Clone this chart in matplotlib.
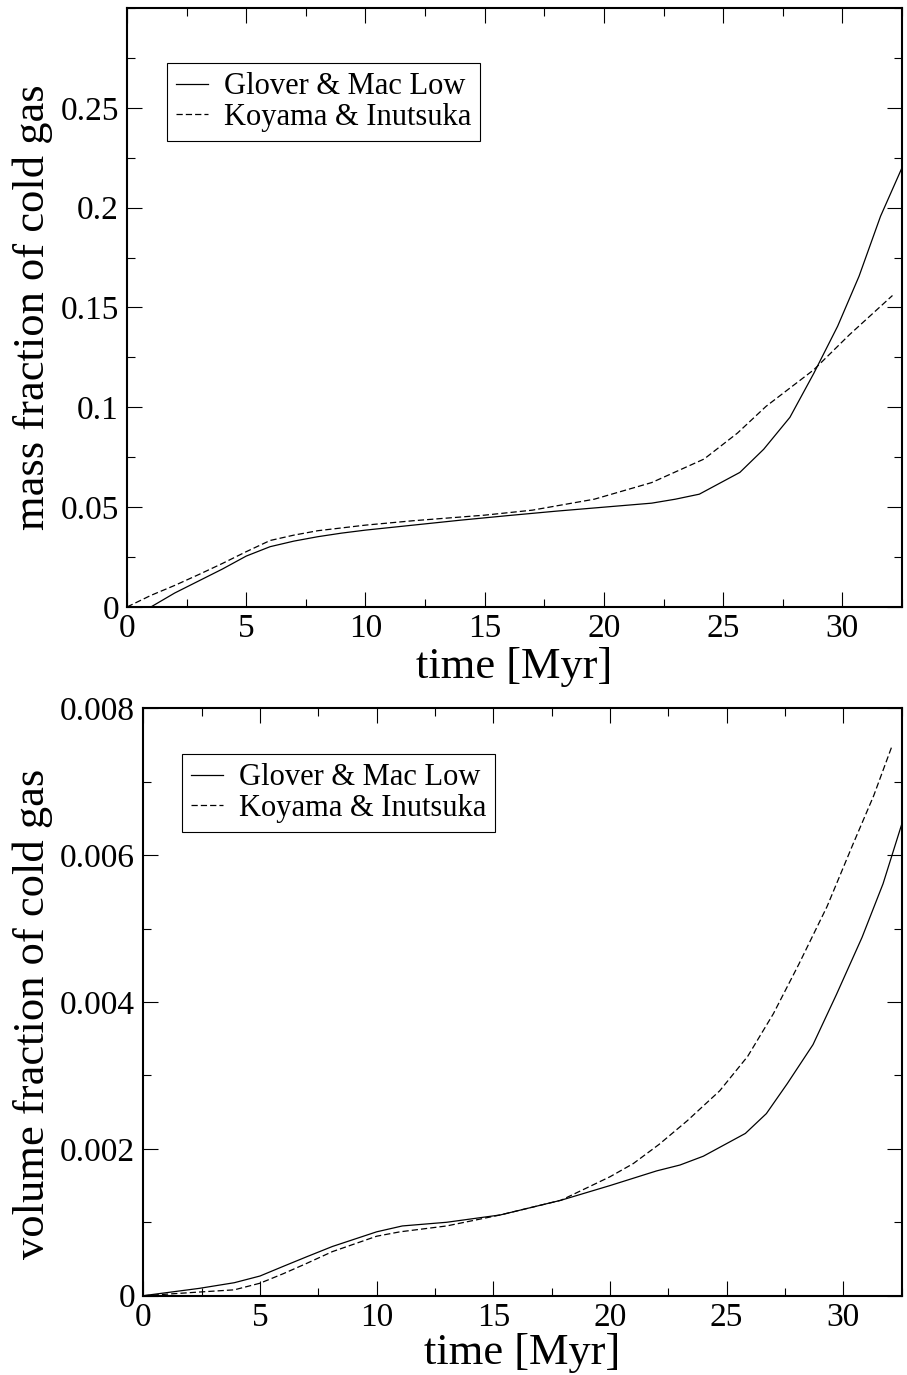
import numpy as np
import matplotlib
matplotlib.use("Agg")
import matplotlib.pyplot as plt
from matplotlib.ticker import MultipleLocator, FormatStrFormatter

plt.rcParams['font.family'] = ['Liberation Serif', 'DejaVu Serif']
plt.rcParams['lines.scale_dashes'] = False

labels = ["Glover & Mac Low", "Koyama & Inutsuka"]

# --- top panel : mass fraction of cold gas
t_mass_glover = [0, 1.0, 2, 3, 4, 5, 6, 7, 8, 9, 10, 12, 14, 16, 18, 20, 22, 23, 24,
                 25.7, 26.7, 27.8, 28.8, 29.8, 30.7, 31.6, 32.5]
mass_glover = [0, 0.0, 0.007, 0.013, 0.019, 0.0255, 0.0302, 0.033, 0.0352, 0.037, 0.0385,
               0.041, 0.0435, 0.0458, 0.048, 0.050, 0.052, 0.054, 0.0565,
               0.0674, 0.079, 0.095, 0.117, 0.1406, 0.1657, 0.1957, 0.220]

t_mass_koyama = [0, 1, 2, 3, 4, 5, 6, 7, 8, 10, 12, 15, 17, 19.6, 22, 24.2, 25.6, 26.8,
                 28.8, 30.3, 32.1]
mass_koyama = [0, 0.0058, 0.0108, 0.0162, 0.0218, 0.0277, 0.0333, 0.036, 0.0382, 0.041,
               0.0432, 0.046, 0.0485, 0.054, 0.0623, 0.0741, 0.0871, 0.1005,
               0.1188, 0.1364, 0.156]

# --- bottom panel : volume fraction of cold gas
t_vol_glover = [0, 2.4, 3.9, 5, 6, 7, 8.1, 10, 11.1, 13, 15.3, 17.9, 20, 21, 22, 23, 24,
                25.8, 26.7, 27.6, 28.7, 29.7, 30.8, 31.7, 32.5]
vol_glover = [0, 0.0001, 0.000177, 0.000268, 0.0004, 0.00053, 0.00067, 0.00087, 0.00095,
              0.001, 0.0011, 0.0013, 0.0015, 0.0016, 0.0017, 0.00178, 0.0019,
              0.00221, 0.00248, 0.00289, 0.00342, 0.0041, 0.00488, 0.00561, 0.00642]

t_vol_koyama = [0, 2.4, 3.9, 5, 6, 7, 8.1, 10, 11, 13, 15.3, 17.9, 20, 21, 22.1, 23.3,
                24.7, 25.9, 27, 28.1, 29.3, 30.4, 31.3, 32.1]
vol_koyama = [0, 0.00005, 0.00008, 0.00017, 0.0003, 0.00044, 0.0006, 0.00081, 0.00087,
              0.00095, 0.0011, 0.0013, 0.00162, 0.0018, 0.00206, 0.00238,
              0.00279, 0.00326, 0.00384, 0.00452, 0.0053, 0.00614, 0.00681, 0.0075]


def style_axes(ax, ymax, ymajor, yminor, ylabel, yticks_top):
    ax.set_xlim(0, 32.5)
    ax.set_ylim(0, ymax)
    ax.xaxis.set_major_locator(MultipleLocator(5))
    ax.xaxis.set_minor_locator(MultipleLocator(2.5))
    ax.set_yticks(yticks_top)
    ax.yaxis.set_minor_locator(MultipleLocator(yminor))
    ax.xaxis.set_major_formatter(FormatStrFormatter('%g'))
    ax.yaxis.set_major_formatter(FormatStrFormatter('%g'))
    ax.tick_params(which='both', direction='in', top=True, right=True,
                   labelsize=24, width=0.8)
    ax.tick_params(which='major', length=11)
    ax.tick_params(which='minor', length=5.8)
    ax.tick_params(axis='y', pad=5.8)
    ax.tick_params(axis='x', pad=5)
    for sp in ax.spines.values():
        sp.set_linewidth(1.5)
    ax.set_xlabel("time [Myr]", fontsize=32)
    ax.set_ylabel(ylabel, fontsize=32)


fig = plt.figure(figsize=(9.07, 13.75), dpi=100)
ax1 = fig.add_axes([0.14002, 0.55855, 0.85447, 0.43564])
ax2 = fig.add_axes([0.15799, 0.05767, 0.83617, 0.4272])

ax1.plot(t_mass_glover, mass_glover, color='black', lw=0.9, label=labels[0])
ax1.plot(t_mass_koyama, mass_koyama, color='black', lw=0.9, dashes=(4.5, 2.2), label=labels[1])
style_axes(ax1, 0.3, 0.05, 0.025, "mass fraction of cold gas",
           [0, 0.05, 0.1, 0.15, 0.2, 0.25])
ax1.yaxis.set_label_coords(-0.0955, 0.5)
ax1.xaxis.set_label_coords(0.5, -0.0668)

ax2.plot(t_vol_glover, vol_glover, color='black', lw=0.9, label=labels[0])
ax2.plot(t_vol_koyama, vol_koyama, color='black', lw=0.9, dashes=(4.5, 2.2), label=labels[1])
style_axes(ax2, 0.008, 0.002, 0.001, "volume fraction of cold gas",
           [0, 0.002, 0.004, 0.006, 0.008])
ax2.yaxis.set_label_coords(-0.119, 0.48)
ax2.xaxis.set_label_coords(0.5, -0.0635)

for ax, anchor in [(ax1, (0.0516, 0.908)), (ax2, (0.051, 0.922))]:
    leg = ax.legend(loc='upper left', bbox_to_anchor=anchor, borderaxespad=0,
                    fontsize=22, frameon=True, fancybox=False, framealpha=1,
                    edgecolor='black', handlelength=1.05, handletextpad=0.5,
                    labelspacing=0.05, borderpad=0.3)
    leg.get_frame().set_linewidth(0.8)

fig.savefig("out.png", dpi=100)
